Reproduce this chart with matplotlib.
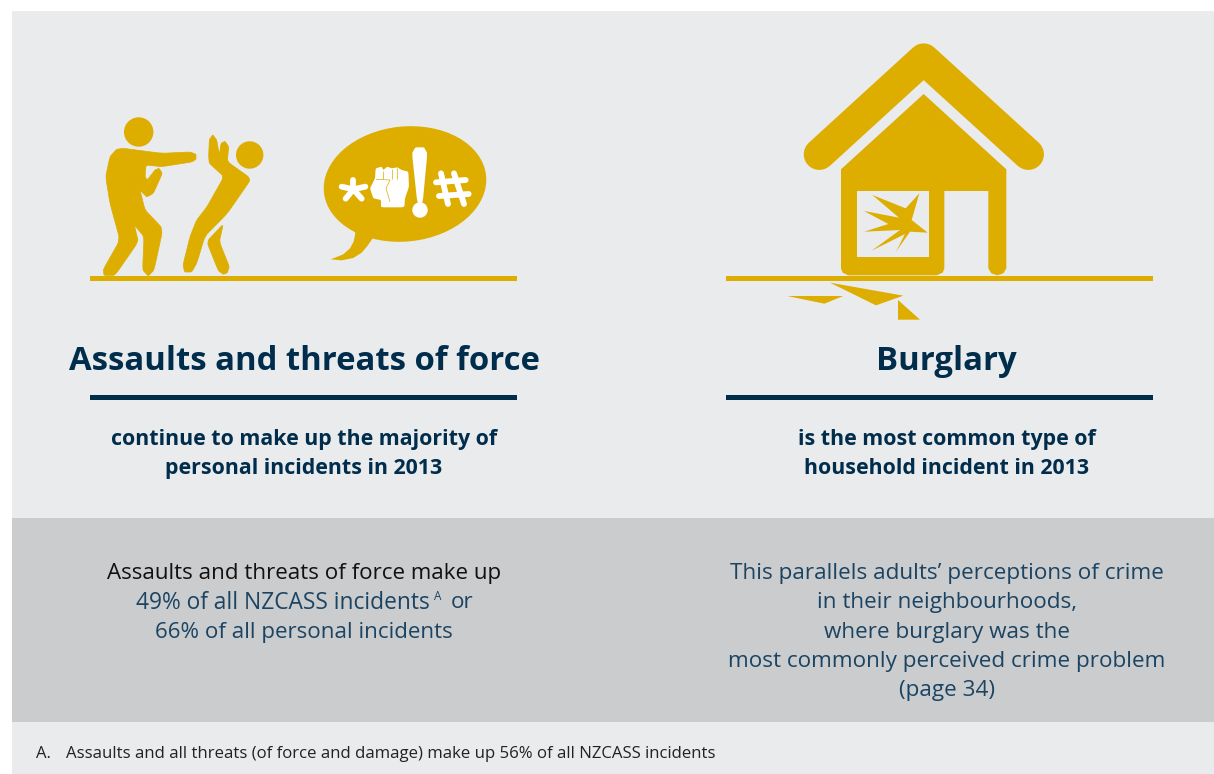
import matplotlib
matplotlib.use('Agg')
import matplotlib.pyplot as plt
from matplotlib.patches import Polygon, Circle, Ellipse, Rectangle

GOLD = '#DDAD00'
PANEL = '#E9EBED'
BAND = '#CBCCCE'
NAVY = '#002D4C'
TEAL = '#1B4463'
FONT = 'Open Sans'

left_heading = 'Assaults and threats of force'
right_heading = 'Burglary'
left_sub = ['continue to make up the majority of', 'personal incidents in 2013']
right_sub = ['is the most common type of', 'household incident in 2013']
left_body = ['Assaults and threats of force make up', '49% of all NZCASS incidents', '66% of all personal incidents']
right_body = ['This parallels adults\u2019 perceptions of crime', 'in their neighbourhoods,',
              'where burglary was the', 'most commonly perceived crime problem', '(page 34)']
footnote = 'Assaults and all threats (of force and damage) make up 56% of all NZCASS incidents'

attacker = [(100, 145), (215, 160), (300, 156), (318, 163), (318, 178), (305, 186), (215, 200), (168, 195), (165, 230),
            (172, 240), (195, 210), (207, 205), (217, 220), (190, 280), (170, 291), (150, 270), (165, 330), (213, 380),
            (216, 400), (192, 510), (175, 528), (158, 510), (162, 410), (133, 375), (145, 425), (75, 526),
            (42, 526), (40, 508), (90, 420), (60, 310), (47, 230), (60, 170), (80, 148)]
victim = [(358, 120), (368, 104), (380, 120), (388, 165), (393, 130), (405, 124), (416, 140), (412, 185),
          (475, 230), (480, 242), (412, 340), (345, 408), (320, 490), (305, 516), (284, 516), (279, 495),
          (300, 410), (320, 360), (350, 322), (402, 230), (358, 190), (356, 170)]
victim_leg = [(400, 372), (388, 425), (418, 500), (412, 518), (400, 523), (385, 512), (350, 425)]
bubble_tail = [(120, 300), (136, 340), (131, 365), (120, 385), (100, 403), (62, 418), (95, 421), (130, 414),
               (155, 398), (172, 378), (188, 355), (200, 320)]
fist = [(180, 205), (195, 175), (197, 145), (215, 140), (220, 150), (232, 140), (245, 145), (262, 142),
        (275, 150), (295, 155), (297, 200), (285, 235), (283, 262), (213, 262), (213, 240), (190, 235)]
bang = [(306, 100), (316, 82), (342, 82), (352, 100), (338, 250), (322, 250)]
house = [(183, 418), (431, 192), (679, 418), (679, 715), (670, 730), (652, 736), (634, 730), (625, 715),
         (625, 483), (493, 483), (493, 715), (488, 728), (470, 736), (205, 736), (188, 728), (183, 715)]
burst = [(277, 495), (377, 535), (418, 490), (395, 570), (443, 608), (390, 605), (348, 665), (375, 612),
         (275, 662), (360, 600), (253, 605), (325, 582), (252, 543), (357, 563)]
shards = [[(22, 798), (190, 798), (133, 821)], [(150, 758), (370, 797), (288, 826)],
          [(354, 810), (420, 869), (354, 869)]]


def fig_pts(points, x0, y0):
    return [(x0 + x / 3, y0 + y / 3) for x, y in points]


def smooth(points, rounds=2, cut=0.1):
    # corner cutting, rounds off the traced outlines
    for _ in range(rounds):
        out = []
        for i, (x, y) in enumerate(points):
            nx, ny = points[(i + 1) % len(points)]
            out.append(((1 - cut) * x + cut * nx, (1 - cut) * y + cut * ny))
            out.append((cut * x + (1 - cut) * nx, cut * y + (1 - cut) * ny))
        points = out
    return points


fig = plt.figure(figsize=(12.14, 7.74), dpi=100)
ax = fig.add_axes([0, 0, 1, 1])
ax.set_xlim(0, 1214)
ax.set_ylim(774, 0)
ax.axis('off')

# background blocks
ax.add_patch(Rectangle((12, 11), 1202, 763, color=PANEL, lw=0))
ax.add_patch(Rectangle((12, 518), 1202, 204, color=BAND, lw=0))

# ground lines and rules
for x0 in (90, 726):
    ax.add_patch(Rectangle((x0, 275.5), 427, 5.5, color=GOLD, lw=0))
    ax.add_patch(Rectangle((x0, 395), 427, 5, color=NAVY, lw=0))

# fight figures
for shape in (attacker, victim, victim_leg):
    ax.add_patch(Polygon(fig_pts(smooth(shape), 90, 100), fc=GOLD, ec=GOLD, lw=0.5))
ax.add_patch(Circle((138.7, 132), 14.7, color=GOLD, lw=0))
ax.add_patch(Circle((249.7, 155), 13.7, color=GOLD, lw=0))

# speech bubble
ax.add_patch(Ellipse((405, 184), 163, 115, angle=-6, color=GOLD, lw=0))
ax.add_patch(Polygon(fig_pts(bubble_tail, 310, 120), color=GOLD, lw=0))
ax.add_patch(Polygon(fig_pts(smooth(fist, 1), 310, 120), color='white', lw=0))
for seg in ([(220, 152), (220, 176)], [(245, 147), (245, 176)], [(262, 144), (262, 176)],
            [(198, 178), (240, 180)], [(240, 180), (228, 205)], [(228, 205), (240, 245)]):
    pts = fig_pts(seg, 310, 120)
    ax.plot(*zip(*pts), color=GOLD, lw=0.5, solid_capstyle='butt')
ax.add_patch(Polygon(fig_pts(smooth(bang, 1), 310, 120), color='white', lw=0))
ax.add_patch(Circle((310 + 330 / 3, 120 + 270 / 3), 7.7, color='white', lw=0))
for seg in ([(130, 208), (130, 180)], [(130, 208), (166, 200)], [(130, 208), (155, 236)],
            [(130, 208), (107, 236)], [(130, 208), (95, 200)],
            [(393, 160), (414, 252)], [(432, 160), (462, 252)], [(378, 187), (467, 180)], [(387, 228), (476, 222)]):
    pts = fig_pts(seg, 310, 120)
    ax.plot(*zip(*pts), color='white', lw=4.2, solid_capstyle='round')

# house
roof = fig_pts([(118, 373), (431, 87), (745, 373)], 780, 30)
ax.plot(*zip(*roof), color=GOLD, lw=22.5, solid_capstyle='round', solid_joinstyle='round')
ax.add_patch(Polygon(fig_pts(house, 780, 30), color=GOLD, lw=0))
ax.add_patch(Polygon(fig_pts([(231, 483), (446, 483), (446, 682), (231, 682)], 780, 30), color=PANEL, lw=0))
ax.add_patch(Polygon(fig_pts(burst, 780, 30), color=GOLD, lw=0))
for shard in shards:
    ax.add_patch(Polygon(fig_pts(shard, 780, 30), color=GOLD, lw=0))

# headings
ax.text(304, 361, left_heading, ha='center', va='center', family=FONT, weight='bold', size=23.7, color=NAVY)
ax.text(946, 361, right_heading, ha='center', va='center', family=FONT, weight='bold', size=23.7, color=NAVY)
for i, line in enumerate(left_sub):
    ax.text(304, 439 + i * 29.5, line, ha='center', va='center', family=FONT, weight='bold', size=15.4, color=NAVY)
for i, line in enumerate(right_sub):
    ax.text(947, 439 + i * 29.5, line, ha='center', va='center', family=FONT, weight='bold', size=15.4, color=NAVY)

# band text
ax.text(304, 574, left_body[0], ha='center', va='center', family=FONT, size=16.1, color='#111111')
ax.text(136, 603, left_body[1], ha='left', va='center', family=FONT, size=16.4, color=TEAL)
ax.text(434, 597, 'A', ha='left', va='center', family=FONT, size=8.5, color=TEAL)
ax.text(451, 603, 'or', ha='left', va='center', family=FONT, size=16.1, color=TEAL)
ax.text(304, 632.5, left_body[2], ha='center', va='center', family=FONT, size=16.1, color=TEAL)
for i, line in enumerate(right_body):
    ax.text(947, 573.5 + i * 29.3, line, ha='center', va='center', family=FONT, size=16.2, color=TEAL)

# footnote
ax.text(36, 754, 'A.', ha='left', va='center', family=FONT, size=12, color='#222222')
ax.text(66, 754, footnote, ha='left', va='center', family=FONT, size=12.07, color='#222222')

fig.savefig('out.png', dpi=100)
